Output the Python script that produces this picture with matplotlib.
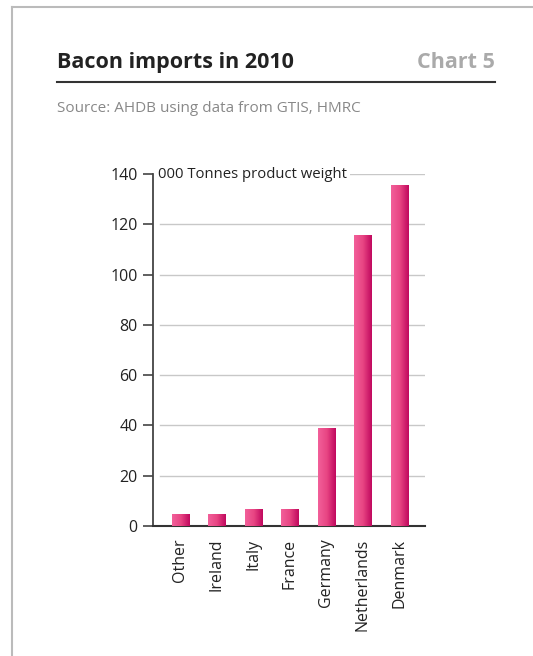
import numpy as np
import matplotlib
matplotlib.use("Agg")
import matplotlib.pyplot as plt
from matplotlib.lines import Line2D
from matplotlib.colors import LinearSegmentedColormap

plt.rcParams['font.family'] = ['Open Sans', 'DejaVu Sans']

countries = ["Other", "Ireland", "Italy", "France", "Germany", "Netherlands", "Denmark"]
imports = [4.4, 4.4, 6.4, 6.4, 38.6, 115.7, 135.6]
yticks = [0, 20, 40, 60, 80, 100, 120, 140]

W, H = 533, 656
fig = plt.figure(figsize=(W / 100, H / 100), dpi=100)

# grey frame on the left and top edges
fig.add_artist(Line2D([11.5 / W, 11.5 / W], [0, 1 - 6.5 / H], color="#bbbbbb", lw=1.5))
fig.add_artist(Line2D([11.5 / W, 1], [1 - 6.5 / H, 1 - 6.5 / H], color="#bbbbbb", lw=1.5))

# header
fig.text(57 / W, 1 - 68 / H, "Bacon imports in 2010", fontsize=15.5, fontweight="bold",
         color="#222222", va="baseline", ha="left")
fig.text(495 / W, 1 - 68 / H, "Chart 5", fontsize=15.5, fontweight="bold",
         color="#aaaaaa", va="baseline", ha="right")
fig.add_artist(Line2D([57 / W, 495 / W], [1 - 82 / H, 1 - 82 / H], color="#333333", lw=1.5))
fig.text(57 / W, 1 - 112 / H, "Source: AHDB using data from GTIS, HMRC", fontsize=11,
         color="#888888", va="baseline", ha="left")

ax = fig.add_axes([153 / W, 1 - 526 / H, 272 / W, 352 / H])
x = np.arange(len(countries))
bars = ax.bar(x, imports, width=0.466, color="none", zorder=3)

# horizontal gradient inside each bar
grad_cmap = LinearSegmentedColormap.from_list("pink", ["#f2609a", "#e84583", "#c0085e"])
grad = np.linspace(0, 1, 64).reshape(1, -1)
for b in bars:
    bx, by = b.get_xy()
    ax.imshow(grad, extent=[bx, bx + b.get_width(), by, by + b.get_height()],
              aspect="auto", cmap=grad_cmap, zorder=3, interpolation="bicubic")

ax.set_xlim(-0.74, 6.71)
ax.set_ylim(0, 140)

for t in yticks[1:]:
    ax.axhline(t, xmin=0.026, xmax=1, color="#c8c8c8", lw=1, zorder=1)

ax.text(0.018, 140, "000 Tonnes product weight", transform=ax.get_yaxis_transform(),
        fontsize=10.7, color="#222222", va="center", ha="left", zorder=4,
        bbox=dict(facecolor="white", edgecolor="none", pad=2.5))

ax.set_yticks(yticks)
ax.set_xticks(x)
ax.set_xticklabels(countries, rotation=90, va="top", ha="center")
ax.tick_params(axis="y", direction="out", length=7, width=1.2, color="#444444",
               labelsize=11.5, labelcolor="#222222", pad=4)
ax.tick_params(axis="x", length=0, labelsize=11.5, labelcolor="#222222", pad=9)

for side in ["top", "right"]:
    ax.spines[side].set_visible(False)
ax.spines["left"].set_color("#444444")
ax.spines["left"].set_linewidth(1.3)
ax.spines["bottom"].set_color("#333333")
ax.spines["bottom"].set_linewidth(1.5)

fig.savefig("out.png", dpi=100)
